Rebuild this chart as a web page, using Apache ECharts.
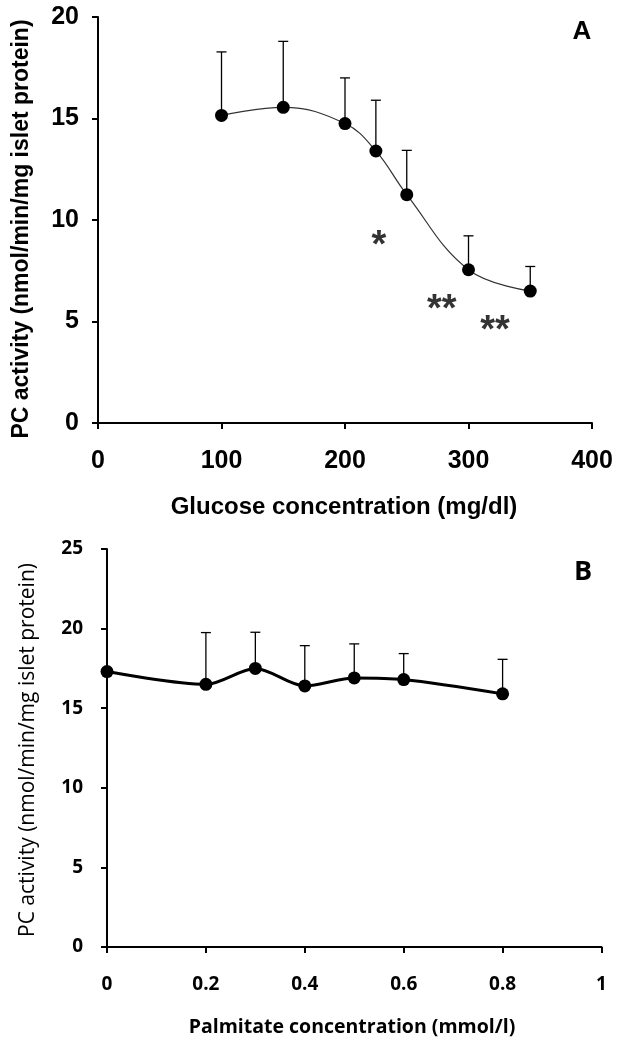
<!DOCTYPE html>
<html>
<head>
<meta charset="utf-8">
<script src="https://cdn.jsdelivr.net/npm/echarts@6/dist/echarts.min.js"></script>
<style>
html,body{margin:0;padding:0;background:#fff;}
#chart{width:622px;height:1045px;}
</style>
</head>
<body>
<div id="chart"></div>
<script>
// Panel A: glucose
const glucoseX = [100, 150, 200, 225, 250, 300, 350];
const glucoseMean = [15.15, 15.55, 14.75, 13.4, 11.25, 7.55, 6.5];
const glucoseErr = [3.13, 3.25, 2.25, 2.5, 2.18, 1.67, 1.21];
const starX = [227.5, 278.3, 321.5];
const starY = [9.13, 5.98, 4.93];
const starText = ['*', '**', '**'];
const glucoseTicks = [0, 100, 200, 300, 400];

// Panel B: palmitate
const palmX = [0, 0.2, 0.3, 0.4, 0.5, 0.6, 0.8];
const palmMean = [17.3, 16.5, 17.5, 16.4, 16.9, 16.8, 15.9];
const palmErr = [null, 3.25, 2.27, 2.53, 2.14, 1.63, 2.17];

const yTitle = 'PC activity (nmol/min/mg islet protein)';
const xTitleA = 'Glucose concentration (mg/dl)';
const xTitleB = 'Palmitate concentration (mmol/l)';

const chart = echarts.init(document.getElementById('chart'), null, {renderer: 'canvas'});

function errBars(xs, ms, es) {
  return xs.map((x, i) => [x, ms[i], es[i]]).filter(d => d[2] != null);
}
function renderErr(params, api) {
  const x = api.value(0), y = api.value(1), e = api.value(2);
  const p0 = api.coord([x, y]);
  const p1 = api.coord([x, y + e]);
  const st = {stroke: '#000', lineWidth: 1.3};
  return {
    type: 'group',
    children: [
      {type: 'line', shape: {x1: p0[0], y1: p0[1], x2: p1[0], y2: p1[1]}, style: st},
      {type: 'line', shape: {x1: p1[0] - 5, y1: p1[1], x2: p1[0] + 5, y2: p1[1]}, style: st}
    ]
  };
}

const fontA = 'Liberation Sans, Arial, sans-serif';
const fontB = 'Open Sans, sans-serif';
const axisLine = {show: true, onZero: false, lineStyle: {color: '#000', width: 2}};
const axisTick = {show: true, inside: false, length: 6, lineStyle: {color: '#000', width: 2}};

chart.setOption({
  animation: false,
  backgroundColor: '#fff',
  grid: [
    {left: 98, top: 17, width: 494, height: 406, containLabel: false},
    {left: 107, top: 549, width: 494.5, height: 398, containLabel: false}
  ],
  xAxis: [
    {gridIndex: 0, type: 'value', min: 0, max: 400, interval: 100,
     axisLine, axisTick, splitLine: {show: false},
     axisLabel: {fontFamily: fontA, fontWeight: 'bold', fontSize: 25, color: '#000', margin: 26,
                 formatter: v => glucoseTicks.includes(v) ? String(v) : ''}},
    {gridIndex: 1, type: 'value', min: 0, max: 1, interval: 0.2,
     axisLine, axisTick, splitLine: {show: false},
     axisLabel: {fontFamily: fontB, fontWeight: 'bold', fontSize: 19, color: '#000', margin: 28,
                 formatter: v => String(Math.round(v * 10) / 10)}}
  ],
  yAxis: [
    {gridIndex: 0, type: 'value', min: 0, max: 20, interval: 5,
     axisLine, axisTick, splitLine: {show: false},
     axisLabel: {fontFamily: fontA, fontWeight: 'bold', fontSize: 25, color: '#000', margin: 19}},
    {gridIndex: 1, type: 'value', min: 0, max: 25, interval: 5,
     axisLine, axisTick, splitLine: {show: false},
     axisLabel: {fontFamily: fontB, fontWeight: 'bold', fontSize: 19, color: '#000', margin: 24}}
  ],
  graphic: [
    {type: 'text', x: 22, y: 229, rotation: Math.PI / 2,
     style: {text: yTitle, font: 'bold 23px ' + fontA, fill: '#000', align: 'center', verticalAlign: 'middle'}},
    {type: 'text', x: 344, y: 507,
     style: {text: xTitleA, font: 'bold 24px ' + fontA, fill: '#000', align: 'center', verticalAlign: 'middle'}},
    {type: 'text', x: 582, y: 32,
     style: {text: 'A', font: 'bold 26px ' + fontA, fill: '#000', align: 'center', verticalAlign: 'middle'}},
    {type: 'text', x: 28, y: 750, rotation: Math.PI / 2,
     style: {text: yTitle, font: '500 21px ' + fontB, fill: '#000', align: 'center', verticalAlign: 'middle'}},
    {type: 'text', x: 352, y: 1027,
     style: {text: xTitleB, font: 'bold 19.5px ' + fontB, fill: '#000', align: 'center', verticalAlign: 'middle'}},
    {type: 'text', x: 583, y: 572,
     style: {text: 'B', font: 'bold 27px ' + fontB, fill: '#000', align: 'center', verticalAlign: 'middle'}}
  ],
  series: [
    {type: 'custom', xAxisIndex: 0, yAxisIndex: 0, renderItem: renderErr, z: 1,
     data: errBars(glucoseX, glucoseMean, glucoseErr)},
    {type: 'line', xAxisIndex: 0, yAxisIndex: 0, smooth: 0.4, z: 2,
     data: glucoseX.map((x, i) => [x, glucoseMean[i]]),
     lineStyle: {color: '#333', width: 1.2},
     symbol: 'circle', symbolSize: 13, itemStyle: {color: '#000'}},
    {type: 'scatter', xAxisIndex: 0, yAxisIndex: 0, symbolSize: 0, z: 3,
     data: starX.map((x, i) => ({value: [x, starY[i]], label: {formatter: starText[i]}})),
     label: {show: true, position: 'inside', offset: [0, 9], fontFamily: fontA, fontWeight: 'bold', fontSize: 38, color: '#000'}},
    {type: 'custom', xAxisIndex: 1, yAxisIndex: 1, renderItem: renderErr, z: 1,
     data: errBars(palmX, palmMean, palmErr)},
    {type: 'line', xAxisIndex: 1, yAxisIndex: 1, smooth: 0.3, z: 2,
     data: palmX.map((x, i) => [x, palmMean[i]]),
     lineStyle: {color: '#000', width: 3},
     symbol: 'circle', symbolSize: 13, itemStyle: {color: '#000'}}
  ]
});
</script>
</body>
</html>
